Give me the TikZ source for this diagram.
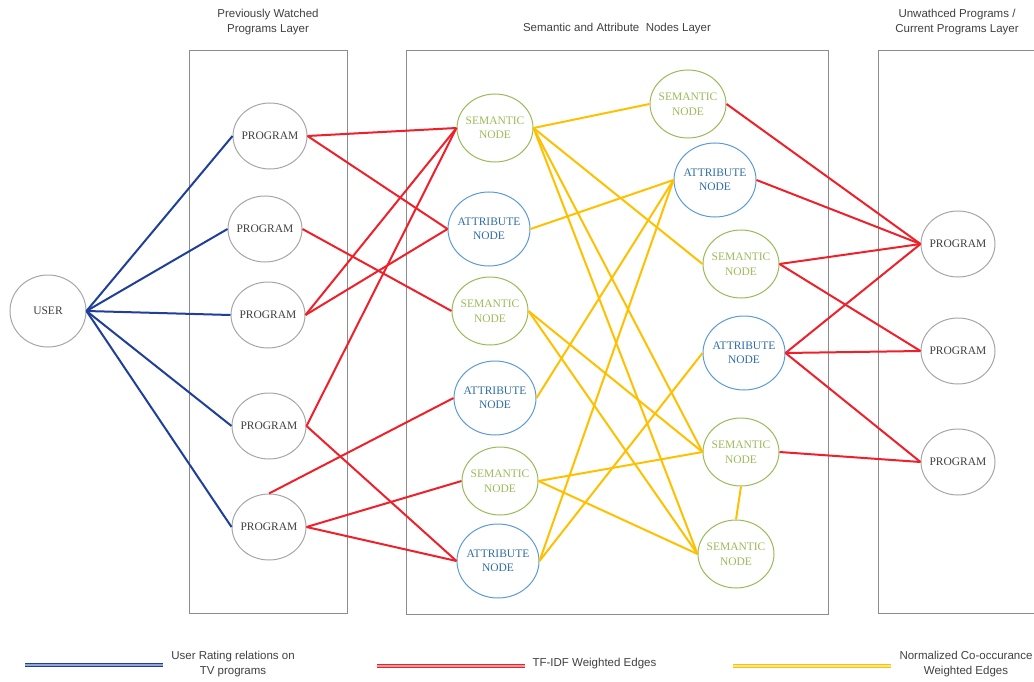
\documentclass[tikz,border=0pt]{standalone}
\usepackage{fontspec}
\setmainfont{Liberation Serif}
\newfontfamily\labelfont{Liberation Sans}
\usetikzlibrary{shapes.geometric}

\definecolor{rateblue}{HTML}{1F3F99}
\definecolor{rateblueL}{HTML}{8FA8DC}
\definecolor{tfred}{HTML}{F0202A}
\definecolor{tfredL}{HTML}{F7A0A4}
\definecolor{coyellow}{HTML}{FFC000}
\definecolor{coyellowL}{HTML}{FFE699}
\definecolor{semgreen}{HTML}{9BBB59}
\definecolor{attrblue}{HTML}{5B9BD5}
\definecolor{attrtext}{HTML}{2E6DA4}
\definecolor{progray}{HTML}{A6A6A6}
\definecolor{boxgray}{HTML}{8C8C8C}
\definecolor{txtgray}{HTML}{404040}

\tikzset{
  ell/.style 2 args={shape=ellipse, draw, line width=1pt, inner sep=0pt,
    minimum width=#1pt, minimum height=#2pt},
  prog/.style={ell={74}{66}, draw=progray,
    label={[text=txtgray, font=\fontsize{11.5}{14}\selectfont]center:PROGRAM}},
  usernode/.style={ell={76}{72}, draw=progray,
    label={[text=txtgray, font=\fontsize{11.5}{14}\selectfont]center:USER}},
  sem/.style={ell={76}{68}, draw=semgreen,
    label={[text=semgreen, align=center, font=\fontsize{11.5}{14.5}\selectfont]center:SEMANTIC\\NODE}},
  attr/.style={ell={82}{74}, draw=attrblue,
    label={[text=attrtext, align=center, font=\fontsize{11.5}{14.5}\selectfont]center:ATTRIBUTE\\NODE}},
  layerbox/.style={draw=boxgray, line width=0.8pt},
  title/.style={font=\labelfont\fontsize{11.5}{14.5}\selectfont, text=txtgray, align=center},
  rate/.style={draw=rateblue, line width=2pt},
  tfidf/.style={draw=tfred, line width=2pt},
  cooc/.style={draw=coyellow, line width=2pt},
  legline/.style={line width=1pt, double distance=1.4pt},
}

\begin{document}
\begin{tikzpicture}[x=1pt, y=-1pt]
\useasboundingbox (0,0) rectangle (1034,682);

% layer frames
\draw[layerbox] (189,50) rectangle (347,613);
\draw[layerbox] (406,50) rectangle (828,614);
\draw[layerbox] (1034,50) -- (878,50) -- (878,613) -- (1034,613);

% layer titles
\node[title] (t1) at (268,22) {Previously Watched\\Programs Layer};
\node[title] (t2) at (617,29) {Semantic and Attribute\ \ Nodes Layer};
\node[title] (t3) at (957,22) {Unwathced Programs /\\Current Programs Layer};

% user and previously watched programs
\node[usernode] (user) at (48,311) {};
\node[prog] (p1) at (270,136) {};
\node[prog] (p2) at (265,229) {};
\node[prog] (p3) at (268,315) {};
\node[prog] (p4) at (269,426) {};
\node[prog] (p5) at (269,527) {};

% semantic / attribute nodes, left column
\node[sem]  (s1) at (495,128) {};
\node[attr] (a1) at (489,229) {};
\node[sem]  (s2) at (490,311) {};
\node[attr] (a2) at (495,398) {};
\node[sem]  (s3) at (500,481) {};
\node[attr] (a3) at (498,561) {};

% semantic / attribute nodes, right column
\node[sem]  (s4) at (688,104) {};
\node[attr] (a4) at (715,180) {};
\node[sem]  (s5) at (741,264) {};
\node[attr] (a5) at (744,353) {};
\node[sem]  (s6) at (741,452) {};
\node[sem]  (s7) at (736,554) {};

% unwatched / current programs
\node[prog] (r1) at (958,244) {};
\node[prog] (r2) at (958,351) {};
\node[prog] (r3) at (958,462) {};

% co-occurrence edges
\draw[cooc] (s1.east) -- (s4.west);
\draw[cooc] (s1.east) -- (s5.west);
\draw[cooc] (s1.east) -- (s6.west);
\draw[cooc] (s1.east) -- (s7.west);
\draw[cooc] (a1.east) -- (a4.west);
\draw[cooc] (a2.east) -- (a4.west);
\draw[cooc] (a3.east) -- (a4.west);
\draw[cooc] (a3.east) -- (a5.west);
\draw[cooc] (s2.east) -- (s6.west);
\draw[cooc] (s2.east) -- (s7.west);
\draw[cooc] (s3.east) -- (s6.west);
\draw[cooc] (s3.east) -- (s7.west);
\draw[cooc] (s6.south) -- (s7.north);

% TF-IDF edges
\draw[tfidf] (p1.east) -- (s1.west);
\draw[tfidf] (p1.east) -- (a1.west);
\draw[tfidf] (p2.east) -- (s2.west);
\draw[tfidf] (p3.east) -- (s1.west);
\draw[tfidf] (p3.east) -- (a1.west);
\draw[tfidf] (p4.east) -- (s1.west);
\draw[tfidf] (p4.east) -- (a3.west);
\draw[tfidf] (p5.north) -- (a2.west);
\draw[tfidf] (p5.east) -- (s3.west);
\draw[tfidf] (p5.east) -- (a3.west);
\draw[tfidf] (s4.east) -- (r1.west);
\draw[tfidf] (a4.east) -- (r1.west);
\draw[tfidf] (s5.east) -- (r1.west);
\draw[tfidf] (s5.east) -- (r2.west);
\draw[tfidf] (a5.east) -- (r1.west);
\draw[tfidf] (a5.east) -- (r2.west);
\draw[tfidf] (a5.east) -- (r3.west);
\draw[tfidf] (s6.east) -- (r3.west);

% user rating edges
\foreach \p in {p1,p2,p3,p4,p5}
  \draw[rate] (user.east) -- (\p.west);

% legend
\coordinate (lb1) at (25,665);  \coordinate (lb2) at (163,665);
\coordinate (lr1) at (377,666); \coordinate (lr2) at (525,666);
\coordinate (ly1) at (733,666); \coordinate (ly2) at (891,666);
\draw[legline, draw=rateblue, double=rateblueL] (lb1) -- (lb2);
\draw[legline, draw=tfred, double=tfredL] (lr1) -- (lr2);
\draw[legline, draw=coyellow, double=coyellowL] (ly1) -- (ly2);
\node[title] (leg1) at (233,664) {User Rating relations on\\TV programs};
\node[title, anchor=west] (leg2) at (529,664) {TF-IDF Weighted Edges};
\node[title] (leg3) at (966,664) {Normalized Co-occurance\\Weighted Edges};
\end{tikzpicture}
\end{document}
